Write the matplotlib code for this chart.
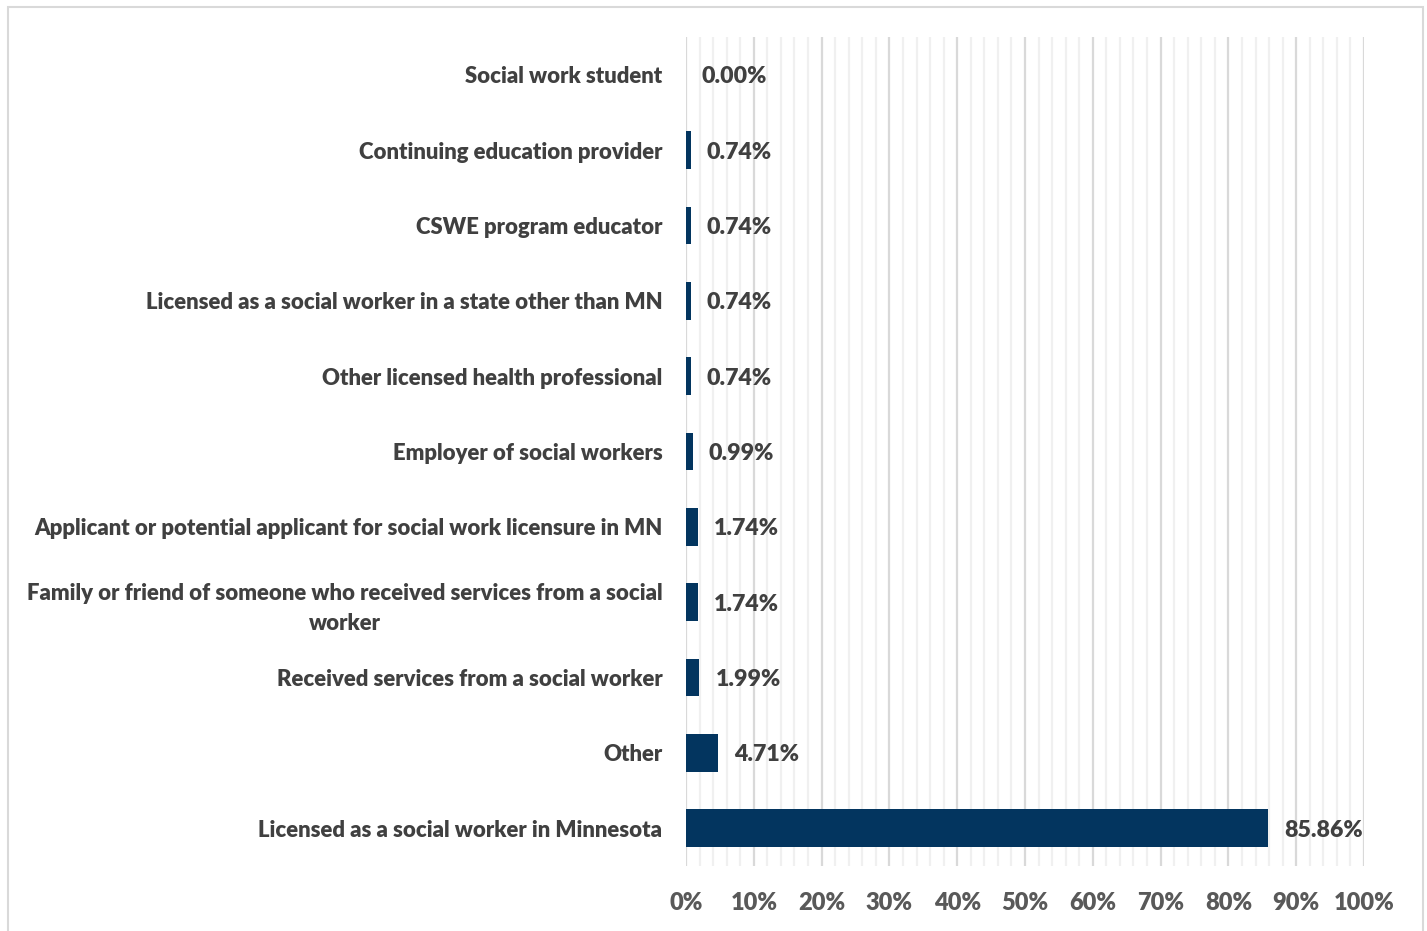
import matplotlib
matplotlib.use("Agg")
import matplotlib.pyplot as plt
from matplotlib.ticker import MultipleLocator, FuncFormatter
from matplotlib.patches import Rectangle

categories = [
    "Social work student",
    "Continuing education provider",
    "CSWE program educator",
    "Licensed as a social worker in a state other than MN",
    "Other licensed health professional",
    "Employer of social workers",
    "Applicant or potential applicant for social work licensure in MN",
    "Family or friend of someone who received services from a social\nworker",
    "Received services from a social worker",
    "Other",
    "Licensed as a social worker in Minnesota",
]
shares = [0.00, 0.74, 0.74, 0.74, 0.74, 0.99, 1.74, 1.74, 1.99, 4.71, 85.86]

plt.rcParams["font.family"] = ["Lato", "DejaVu Sans"]

W, H = 1427, 931
fig = plt.figure(figsize=(W / 100, H / 100), dpi=100)
ax = fig.add_axes([686 / W, 1 - 866 / H, (1364 - 686) / W, (866 - 37) / H])

ypos = list(range(len(categories)))
ax.barh(ypos, shares, height=0.5, color="#03355F", zorder=3)

for y, v in zip(ypos, shares):
    ax.annotate(f"{v:.2f}%", xy=(v, y), xytext=(11.5, 0), textcoords="offset points",
                ha="left", va="center_baseline", fontsize=16.7, fontweight="heavy",
                color="#404040", zorder=4)

ax.set_xlim(0, 100)
ax.set_ylim(len(categories) - 0.5, -0.5)
ax.set_yticks(ypos)
ax.set_yticklabels(categories, fontsize=15.9, fontweight="heavy", color="#404040",
                   multialignment="center", linespacing=1.5)
ax.xaxis.set_major_locator(MultipleLocator(10))
ax.xaxis.set_minor_locator(MultipleLocator(2))
ax.xaxis.set_major_formatter(FuncFormatter(lambda x, _: f"{x:.0f}%"))
for lbl in ax.get_xticklabels():
    lbl.set_fontsize(17)
    lbl.set_fontweight("heavy")
    lbl.set_color("#595959")

ax.tick_params(axis="y", length=0, pad=17)
ax.tick_params(axis="x", which="both", length=0, pad=19)
ax.grid(axis="x", which="major", color="#d9d9d9", linewidth=1.6, zorder=0)
ax.grid(axis="x", which="minor", color="#f0f0f0", linewidth=1.6, zorder=0)
ax.grid(axis="y", visible=False)
for s in ax.spines.values():
    s.set_visible(False)
ax.set_axisbelow(True)

fig.patches.append(Rectangle((8 / W, -0.01), (1423 - 8) / W, 1 - 7 / H + 0.01,
                             transform=fig.transFigure, fill=False,
                             edgecolor="#d9d9d9", linewidth=1.5))

fig.savefig("out.png", dpi=100, facecolor="white")
